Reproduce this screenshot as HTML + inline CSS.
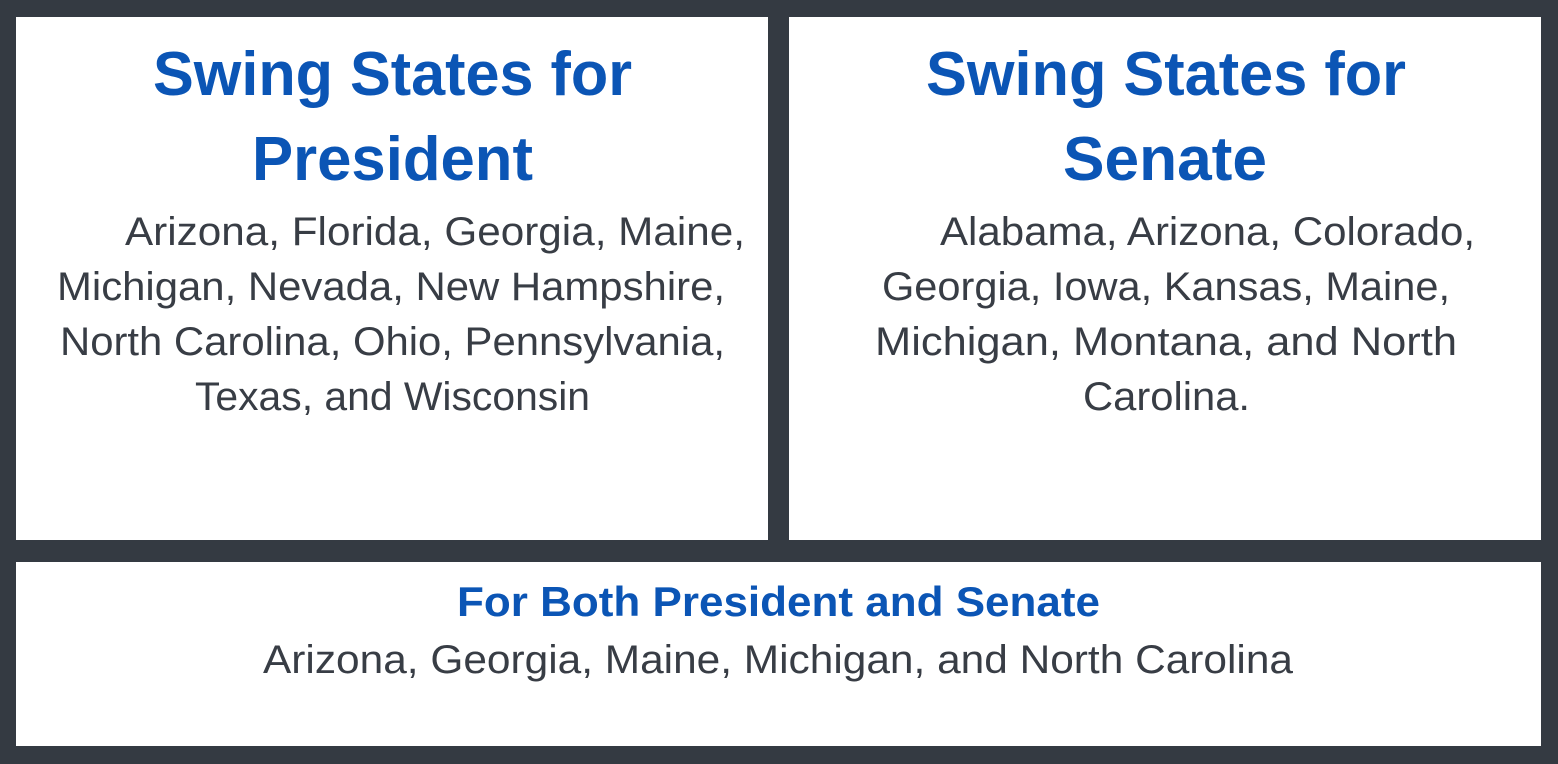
<!DOCTYPE html>
<html><head><meta charset="utf-8"><style>
html,body{margin:0;padding:0;background:#343a42;}
svg{display:block}
.t{font-family:"Liberation Sans",sans-serif;font-weight:bold;fill:#0b55b5}
.b{font-family:"Liberation Sans",sans-serif;fill:#383d45}
</style></head><body>
<svg width="1558" height="764" viewBox="0 0 1558 764">
<rect x="0" y="0" width="1558" height="764" fill="#343a42"/>
<g>
<rect x="16" y="17" width="752" height="523" fill="#fff"/>
<text class="t" x="153" y="95" font-size="62" textLength="479" lengthAdjust="spacingAndGlyphs">Swing States for</text>
<text class="t" x="252" y="180" font-size="62" textLength="281" lengthAdjust="spacingAndGlyphs">President</text>
<text class="b" x="125" y="245" font-size="40" textLength="620" lengthAdjust="spacingAndGlyphs">Arizona, Florida, Georgia, Maine,</text>
<text class="b" x="57" y="300" font-size="40" textLength="668" lengthAdjust="spacingAndGlyphs">Michigan, Nevada, New Hampshire,</text>
<text class="b" x="60" y="355" font-size="40" textLength="665" lengthAdjust="spacingAndGlyphs">North Carolina, Ohio, Pennsylvania,</text>
<text class="b" x="195" y="410" font-size="40" textLength="395" lengthAdjust="spacingAndGlyphs">Texas, and Wisconsin</text>
</g>
<g>
<rect x="789" y="17" width="752" height="523" fill="#fff"/>
<text class="t" x="926" y="95" font-size="62" textLength="480" lengthAdjust="spacingAndGlyphs">Swing States for</text>
<text class="t" x="1063" y="180" font-size="62" textLength="204" lengthAdjust="spacingAndGlyphs">Senate</text>
<text class="b" x="940" y="245" font-size="40" textLength="535" lengthAdjust="spacingAndGlyphs">Alabama, Arizona, Colorado,</text>
<text class="b" x="882" y="300" font-size="40" textLength="568" lengthAdjust="spacingAndGlyphs">Georgia, Iowa, Kansas, Maine,</text>
<text class="b" x="875" y="355" font-size="40" textLength="582" lengthAdjust="spacingAndGlyphs">Michigan, Montana, and North</text>
<text class="b" x="1083" y="410" font-size="40" textLength="167" lengthAdjust="spacingAndGlyphs">Carolina.</text>
</g>
<g>
<rect x="16" y="562" width="1525" height="184" fill="#fff"/>
<text class="t" x="457" y="616" font-size="42" textLength="643" lengthAdjust="spacingAndGlyphs">For Both President and Senate</text>
<text class="b" x="263" y="673" font-size="40" textLength="1030" lengthAdjust="spacingAndGlyphs">Arizona, Georgia, Maine, Michigan, and North Carolina</text>
</g>
</svg>
</body></html>
